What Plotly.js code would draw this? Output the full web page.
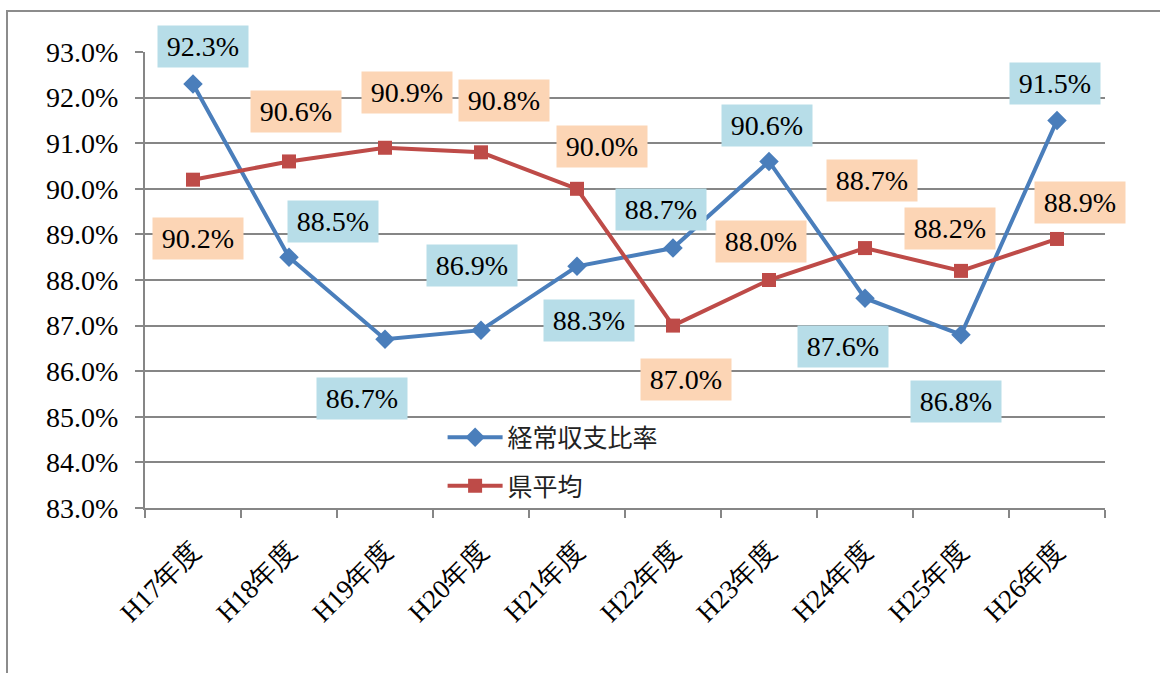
<!DOCTYPE html>
<html>
<head>
<meta charset="utf-8">
<script src="https://cdn.plot.ly/plotly-3.0.1.min.js"></script>
<style>
  html, body { margin: 0; padding: 0; background: #ffffff; overflow: hidden; }
  #frame { position: absolute; left: 6px; top: 10px; width: 1200px; height: 720px; border: 2px solid #8c8c8c; box-sizing: border-box; }
  #chart { position: absolute; left: 0; top: 0; width: 1160px; height: 673px; }
</style>
</head>
<body>
<div id="frame"></div>
<div id="chart"></div>
<script>
// ---- data ----
const categories = ["H17年度","H18年度","H19年度","H20年度","H21年度","H22年度","H23年度","H24年度","H25年度","H26年度"];
const seriesNames = ["経常収支比率", "県平均"];
const ratioValues = [92.3, 88.5, 86.7, 86.9, 88.3, 88.7, 90.6, 87.6, 86.8, 91.5];
const prefAvgValues = [90.2, 90.6, 90.9, 90.8, 90.0, 87.0, 88.0, 88.7, 88.2, 88.9];
const yTickValues = [83, 84, 85, 86, 87, 88, 89, 90, 91, 92, 93];

// ---- label offsets (pixels, layout only) ----
const ratioLabelOffsets = [[10,-37],[44,-36],[-23,59],[-9,-65],[12,54],[-12,-39],[-2,-36],[-22,48],[-5,67],[-2,-37]];
const prefLabelOffsets  = [[5,59],[7,-50],[22,-55],[23,-52],[25,-42],[13,54],[-8,-39],[7,-68],[-11,-42],[23,-36]];

const BLUE = "#4a7ebb", RED = "#be4b48";
const BLUE_BG = "#b7dde8", RED_BG = "#fcd5b5";
const SERIF = "Liberation Serif";

const traces = [
  {
    x: categories, y: ratioValues, name: seriesNames[0], type: "scatter", mode: "lines+markers",
    line: {color: BLUE, width: 4}, marker: {symbol: "diamond", size: 15, color: BLUE},
    legendgroup: "a", hoverinfo: "skip"
  },
  {
    x: categories, y: prefAvgValues, name: seriesNames[1], type: "scatter", mode: "lines+markers",
    line: {color: RED, width: 4}, marker: {symbol: "square", size: 14, color: RED},
    legendgroup: "b", hoverinfo: "skip"
  }
];

function makeLabels(vals, offs, bg) {
  return vals.map((v, i) => ({
    x: categories[i], y: v, xref: "x", yref: "y",
    text: v.toFixed(1) + "%",
    showarrow: true, arrowcolor: "rgba(0,0,0,0)", arrowwidth: 0.1,
    ax: offs[i][0], ay: offs[i][1],
    bgcolor: bg, borderpad: 0, width: 90, height: 41,
    font: {family: SERIF, size: 28, color: "#000000"}
  }));
}

const layout = {
  width: 1160, height: 673,
  margin: {l: 145, r: 55, t: 52, b: 165},
  paper_bgcolor: "rgba(0,0,0,0)",
  plot_bgcolor: "rgba(0,0,0,0)",
  font: {family: SERIF},
  showlegend: true,
  legend: {
    x: 0.31, y: 0.205, xanchor: "left", yanchor: "top",
    bgcolor: "rgba(0,0,0,0)", traceorder: "grouped", tracegroupgap: 13, itemwidth: 55,
    font: {family: "Noto Sans CJK JP", size: 25, color: "#222222"}
  },
  xaxis: {
    type: "category", tickson: "boundaries", ticks: "outside", ticklen: 8, tickwidth: 2, tickcolor: "#868686",
    showline: true, linecolor: "#868686", linewidth: 2, showgrid: false, zeroline: false,
    tickangle: -45, ticklabelstandoff: 14, tickfont: {family: SERIF, size: 27, color: "#000000"},
    range: [-0.5, 9.5], fixedrange: true
  },
  yaxis: {
    range: [83, 93], tickvals: yTickValues, ticktext: yTickValues.map(v => v.toFixed(1) + "%"),
    ticks: "outside", ticklen: 8, tickwidth: 2, tickcolor: "#868686", ticklabelstandoff: 11,
    showline: true, linecolor: "#868686", linewidth: 2,
    showgrid: true, gridcolor: "#868686", gridwidth: 2, zeroline: false,
    tickfont: {family: SERIF, size: 28, color: "#000000"}, fixedrange: true
  },
  annotations: makeLabels(ratioValues, ratioLabelOffsets, BLUE_BG)
    .concat(makeLabels(prefAvgValues, prefLabelOffsets, RED_BG))
};

function draw() { Plotly.newPlot("chart", traces, layout, {staticPlot: true, displayModeBar: false}); }
if (document.fonts && document.fonts.ready) { document.fonts.ready.then(draw); } else { draw(); }
</script>
</body>
</html>
